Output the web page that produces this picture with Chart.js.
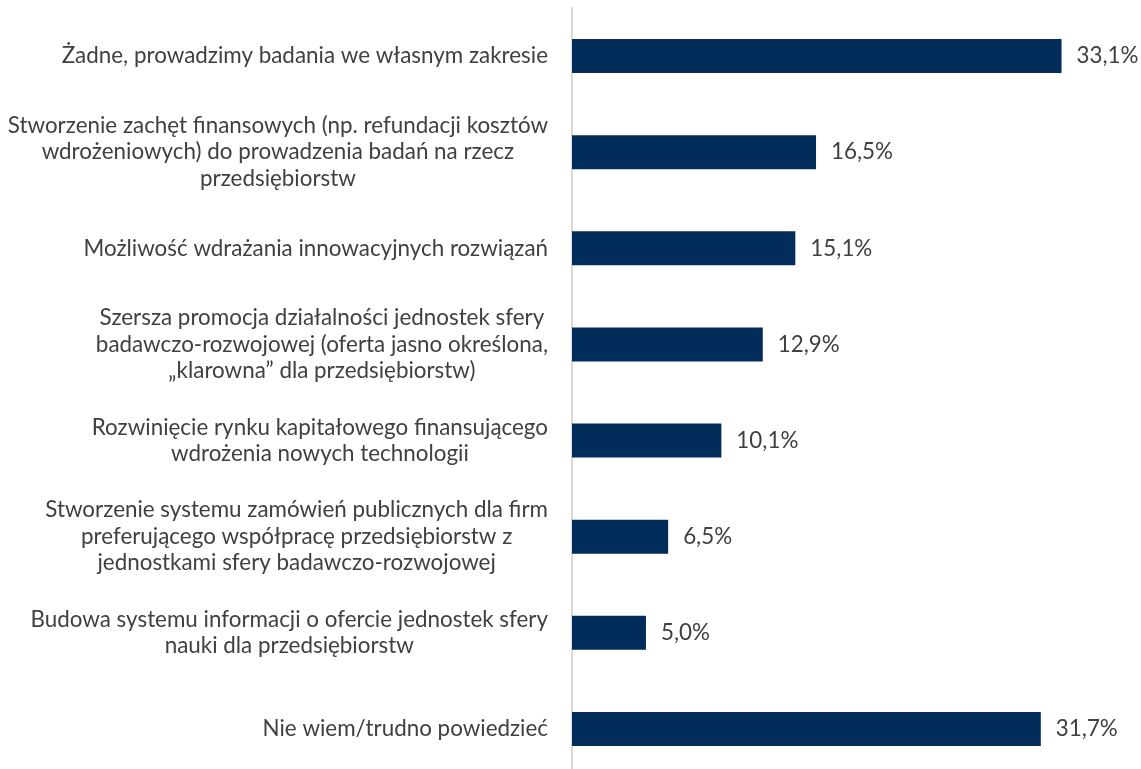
<!DOCTYPE html>
<html>
<head>
<meta charset="utf-8">
<script src="https://cdn.jsdelivr.net/npm/chart.js@4"></script>
<style>
  html, body { margin: 0; padding: 0; background: #fff; overflow: hidden; }
  #wrap { width: 1141px; height: 785px; }
</style>
</head>
<body>
<div id="wrap"><canvas id="myChart" width="1141" height="785"></canvas></div>
<script>
const categories = [
  ['Żadne, prowadzimy badania we własnym zakresie'],
  ['Stworzenie zachęt finansowych (np. refundacji kosztów', 'wdrożeniowych) do prowadzenia badań na rzecz', 'przedsiębiorstw'],
  ['Możliwość wdrażania innowacyjnych rozwiązań'],
  ['Szersza promocja działalności jednostek sfery', 'badawczo-rozwojowej (oferta jasno określona,', '„klarowna” dla przedsiębiorstw)'],
  ['Rozwinięcie rynku kapitałowego finansującego', 'wdrożenia nowych technologii'],
  ['Stworzenie systemu zamówień publicznych dla firm', 'preferującego współpracę przedsiębiorstw z', 'jednostkami sfery badawczo-rozwojowej'],
  ['Budowa systemu informacji o ofercie jednostek sfery', 'nauki dla przedsiębiorstw'],
  ['Nie wiem/trudno powiedzieć'],
];
const values = [33.1, 16.5, 15.1, 12.9, 10.1, 6.5, 5.0, 31.7];

const BAR_COLOR = '#022d5b';
const TEXT_COLOR = '#404040';
const FONT = '22.4px Lato';
const LINE_HEIGHT = 26.5;

// category labels: block right-aligned, lines centred inside the block
const categoryLabels = {
  id: 'categoryLabels',
  afterDraw(chart) {
    const ctx = chart.ctx;
    const yScale = chart.scales.y;
    const right = 548;
    ctx.save();
    ctx.font = FONT;
    ctx.fillStyle = TEXT_COLOR;
    ctx.textAlign = 'center';
    ctx.textBaseline = 'middle';
    categories.forEach((lines, i) => {
      const blockW = Math.max(...lines.map(l => ctx.measureText(l).width));
      const cx = right - blockW / 2;
      const cy = yScale.getPixelForTick(i);
      const top = cy - (lines.length - 1) * LINE_HEIGHT / 2;
      lines.forEach((l, j) => ctx.fillText(l, cx, top + j * LINE_HEIGHT));
    });
    ctx.restore();
  }
};

// value labels right of each bar
const valueLabels = {
  id: 'valueLabels',
  afterDatasetsDraw(chart) {
    const ctx = chart.ctx;
    const meta = chart.getDatasetMeta(0);
    ctx.save();
    ctx.font = FONT;
    ctx.fillStyle = TEXT_COLOR;
    ctx.textAlign = 'left';
    ctx.textBaseline = 'middle';
    meta.data.forEach((bar, i) => {
      const txt = values[i].toFixed(1).replace('.', ',') + '%';
      ctx.fillText(txt, bar.x + 15, bar.y);
    });
    ctx.restore();
  }
};

const ctx = document.getElementById('myChart');
new Chart(ctx, {
  type: 'bar',
  data: {
    labels: categories,
    datasets: [{
      data: values,
      backgroundColor: BAR_COLOR,
      borderWidth: 0,
      barPercentage: 0.354,
      categoryPercentage: 1.0,
    }]
  },
  options: {
    indexAxis: 'y',
    responsive: false,
    animation: false,
    layout: { padding: { top: 8, bottom: 8, right: 7, left: 0 } },
    scales: {
      x: {
        display: false,
        min: 0,
        max: 38,
      },
      y: {
        grid: { display: false, drawTicks: false },
        border: { display: true, color: '#d9d9d9', width: 2 },
        ticks: { display: false },
        afterFit(scale) { scale.width = 572; }
      }
    },
    plugins: {
      legend: { display: false },
      tooltip: { enabled: false },
    }
  },
  plugins: [categoryLabels, valueLabels]
});
</script>
</body>
</html>
